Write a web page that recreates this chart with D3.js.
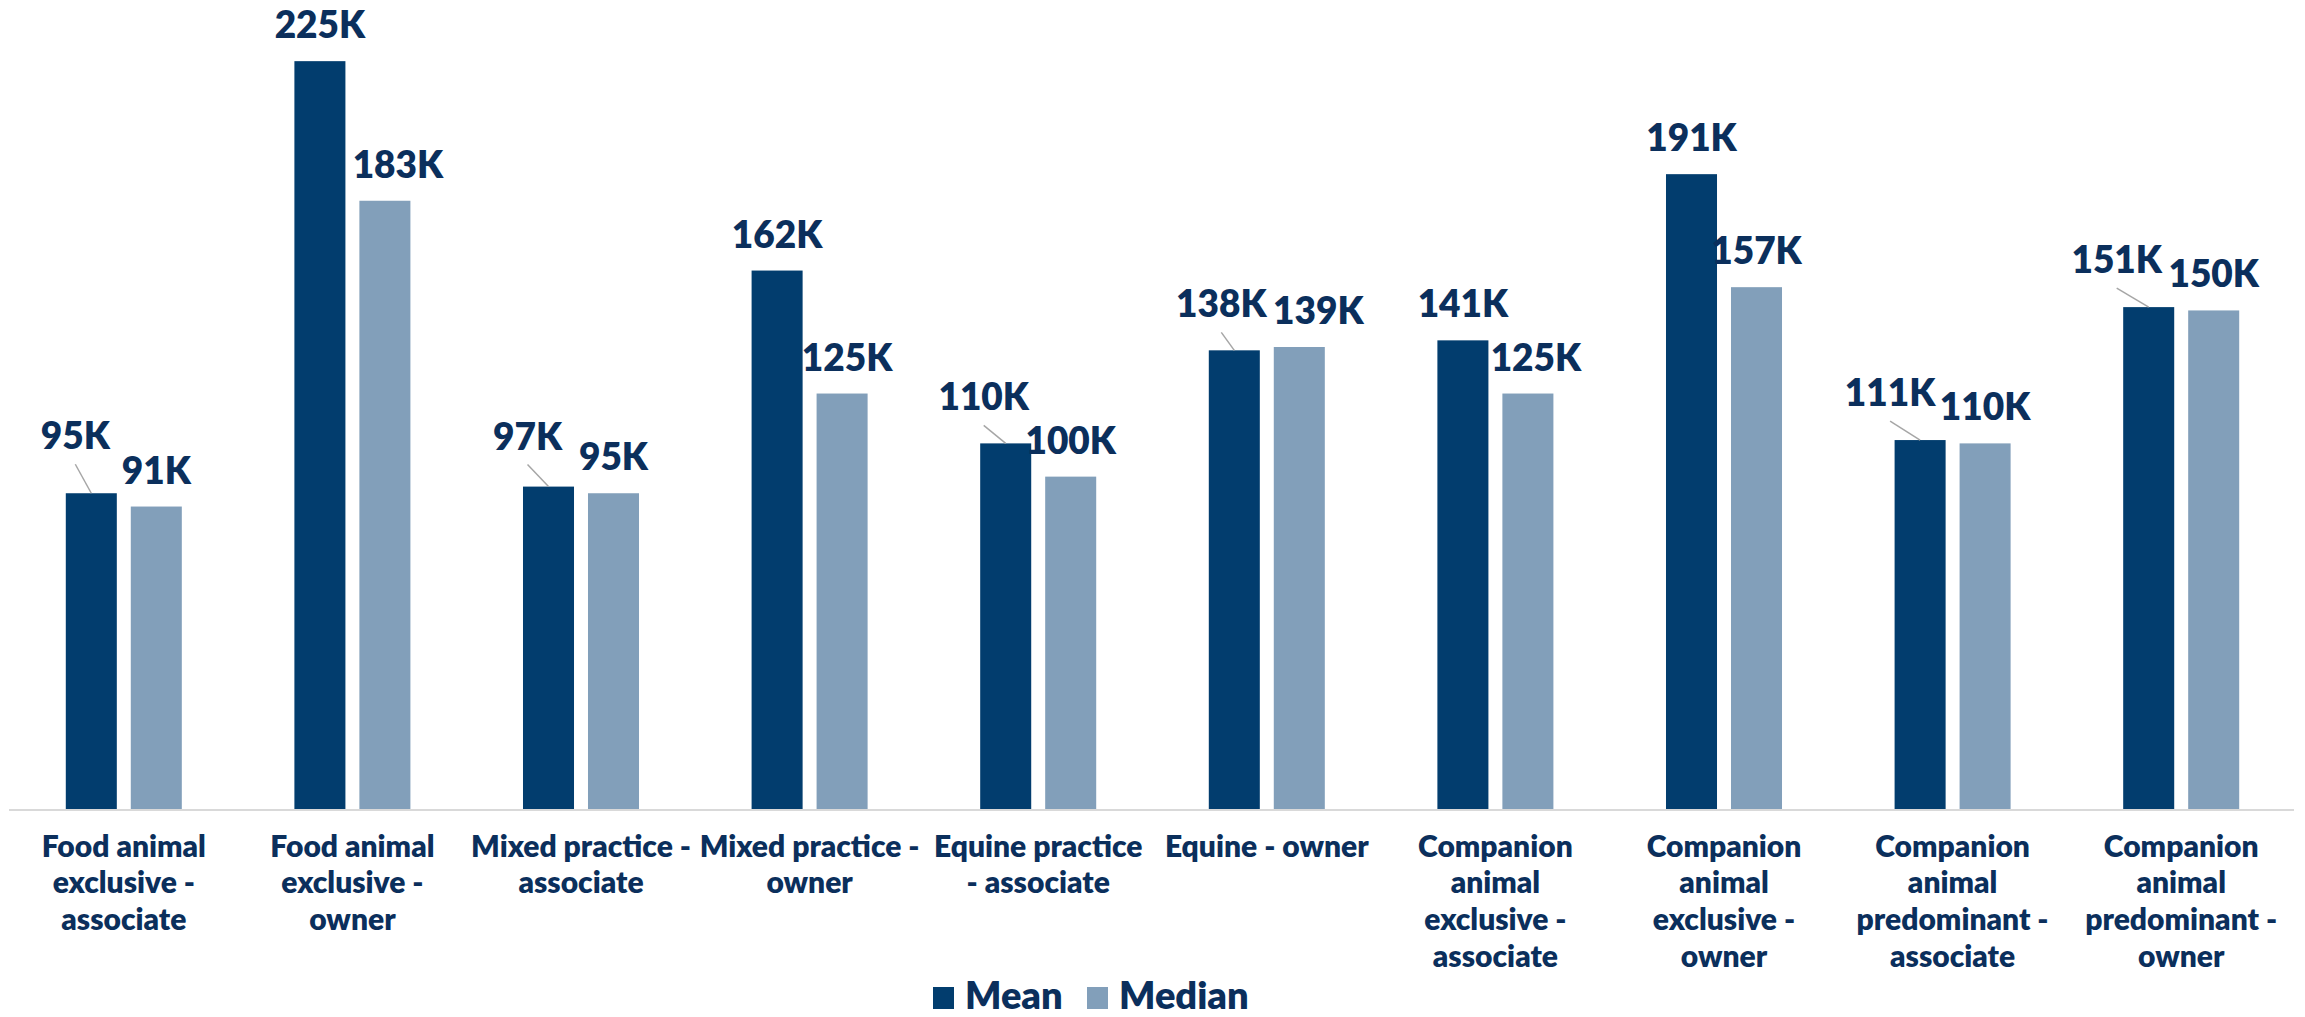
<!DOCTYPE html>
<html>
<head>
<meta charset="utf-8">
<script src="https://cdn.jsdelivr.net/npm/d3@7"></script>
<style>
  body { margin: 0; background: #fff; }
  svg { display: block; }
  .lbl { font-family: Lato, "Open Sans", sans-serif; font-weight: 800; fill: #0b2f5c; }
</style>
</head>
<body>
<svg id="chart" width="2305" height="1017"></svg>
<script>
// categories, one entry per line of the wrapped axis label
var categories = [
    ['Food animal', 'exclusive -', 'associate'],
    ['Food animal', 'exclusive -', 'owner'],
    ['Mixed practice -', 'associate'],
    ['Mixed practice -', 'owner'],
    ['Equine practice', '- associate'],
    ['Equine - owner'],
    ['Companion', 'animal', 'exclusive -', 'associate'],
    ['Companion', 'animal', 'exclusive -', 'owner'],
    ['Companion', 'animal', 'predominant -', 'associate'],
    ['Companion', 'animal', 'predominant -', 'owner']
];
var seriesNames = ['Mean', 'Median'];
var meanValues = [95, 225, 97, 162, 110, 138, 141, 191, 111, 151];
var medianValues = [91, 183, 95, 125, 100, 139, 125, 157, 110, 150];

var colors = { Mean: '#023d6e', Median: '#829fba' };

// hand-moved data labels (pixels off the default spot)
var labelNudge = {
    Mean:   { 0: [-16, -21], 2: [-21, -14], 4: [-22, -10], 5: [-13, -10], 8: [-30, -11], 9: [-32, -11] },
    Median: { 1: [13, 0], 3: [5, 0], 5: [19, 0], 6: [8, 0] }
};

var svg = d3.select('#chart');
var base = 809;

var x0 = d3.scaleBand()
    .domain(d3.range(categories.length))
    .range([9.5, 2295.5])
    .paddingInner(0.4925)
    .paddingOuter(0.24625);

var x1 = d3.scaleBand()
    .domain(seriesNames)
    .range([0, x0.bandwidth()])
    .paddingInner(0.215);

var y = d3.scaleLinear()
    .domain([0, 243.4])
    .range([base, 0]);

var rows = [];
categories.forEach(function(c, i) {
    rows.push({ i: i, s: 'Mean', v: meanValues[i] });
    rows.push({ i: i, s: 'Median', v: medianValues[i] });
});

//Baseline
svg.append('line')
    .attr('x1', 9).attr('x2', 2294)
    .attr('y1', base + 1).attr('y2', base + 1)
    .attr('stroke', '#d9d9d9')
    .attr('stroke-width', 2);

svg.append('g').selectAll('rect')
    .data(rows)
    .enter().append('rect')
    .attr('x', function(d) { return x0(d.i) + x1(d.s); })
    .attr('y', function(d) { return y(d.v); })
    .attr('width', x1.bandwidth())
    .attr('height', function(d) { return base - y(d.v); })
    .attr('fill', function(d) { return colors[d.s]; });

//Data labels, with a leader line where the label was pulled away
var labels = svg.append('g');
rows.forEach(function(d) {
    var cx = x0(d.i) + x1(d.s) + x1.bandwidth() / 2;
    var top = y(d.v);
    var n = labelNudge[d.s][d.i] || [0, 0];
    var lx = cx + n[0];
    var ly = top - 23 + n[1];
    if (n[1] !== 0) {
        labels.append('line')
            .attr('x1', lx).attr('y1', ly + 15)
            .attr('x2', cx).attr('y2', top)
            .attr('stroke', '#a6a6a6')
            .attr('stroke-width', 1.5);
    }
    labels.append('text')
        .attr('class', 'lbl')
        .attr('x', lx)
        .attr('y', ly)
        .attr('text-anchor', 'middle')
        .style('font-size', '37px')
        .text(d.v + 'K');
});

//Category labels
var ticks = svg.append('g').selectAll('text')
    .data(categories)
    .enter().append('text')
    .attr('class', 'lbl')
    .attr('text-anchor', 'middle')
    .style('font-size', '30px')
    .attr('transform', function(d, i) { return 'translate(' + (x0(i) + x0.bandwidth() / 2) + ',' + (base + 47.5) + ')'; });

ticks.selectAll('tspan')
    .data(function(d) { return d; })
    .enter().append('tspan')
    .attr('x', 0)
    .attr('y', function(d, k) { return k * 36.7; })
    .text(function(d) { return d; });

//Legend
var legend = svg.append('g').attr('transform', 'translate(933,1009)');
var items = legend.selectAll('g')
    .data(seriesNames)
    .enter().append('g')
    .attr('transform', function(d, i) { return 'translate(' + (i * 154) + ',0)'; });
items.append('rect')
    .attr('x', 0).attr('y', -22)
    .attr('width', 21).attr('height', 22)
    .attr('fill', function(d) { return colors[d]; });
items.append('text')
    .attr('class', 'lbl')
    .attr('x', 32)
    .attr('y', 0)
    .style('font-size', '38px')
    .text(function(d) { return d; });
</script>
</body>
</html>
